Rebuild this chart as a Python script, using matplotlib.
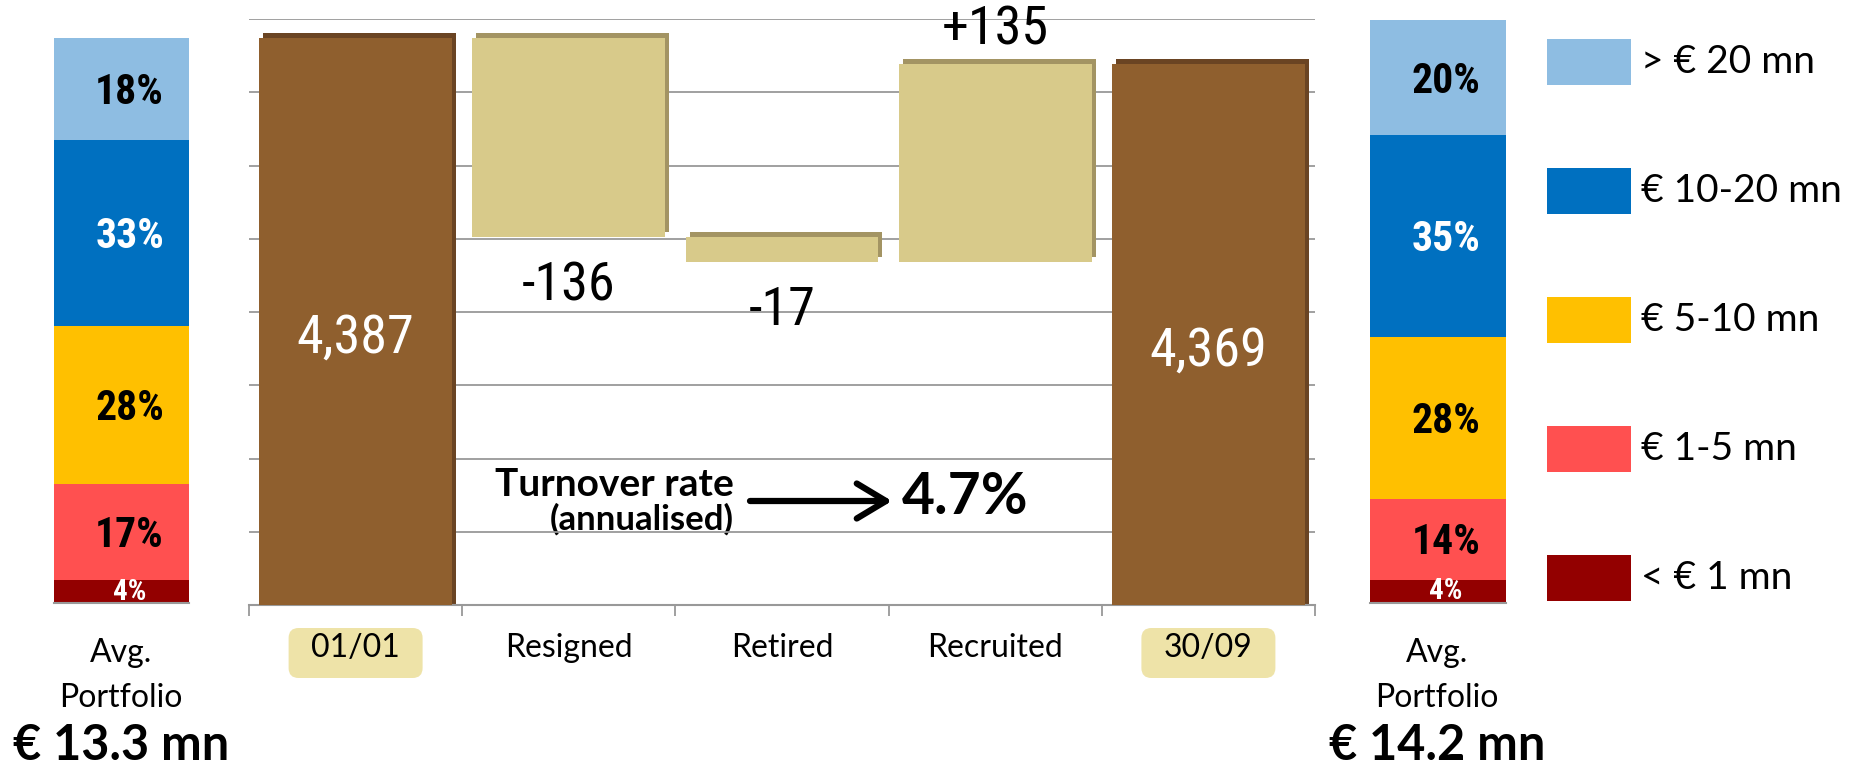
import os
import matplotlib
matplotlib.use("Agg")
import matplotlib.pyplot as plt
from matplotlib import font_manager, transforms
from matplotlib.font_manager import FontProperties
from matplotlib.patches import Rectangle, FancyBboxPatch

# --- data -------------------------------------------------------------
categories = ["01/01", "Resigned", "Retired", "Recruited", "30/09"]
start_total = 4387
changes = [-136, -17, 135]
end_total = 4369

segment_labels = ["< € 1 mn", "€ 1-5 mn", "€ 5-10 mn", "€ 10-20 mn", "> € 20 mn"]
left_pct = [4, 17, 28, 33, 18]
right_pct = [4, 14, 28, 35, 20]
left_avg = "€ 13.3 mn"
right_avg = "€ 14.2 mn"
turnover = "4.7%"

# --- style ------------------------------------------------------------
seg_colors = ["#930000", "#FF5050", "#FFC000", "#0070C0", "#8EBDE2"]
seg_text_colors = ["white", "black", "black", "white", "black"]
brown, brown_dark = "#8F5F2E", "#6A4423"
tan, tan_dark = "#D8CA8A", "#A39463"
grid_gray = "#999999"

# narrow font for the numbers (Arial Narrow look-alike)
files = {os.path.basename(f.fname).lower(): f.fname for f in font_manager.fontManager.ttflist}


def pick(options):
    for o in options:
        if o in files:
            return files[o]
    return None


reg = pick(["liberationsansnarrow-regular.ttf", "robotocondensed-regular.ttf",
            "notosans-condensed.ttf", "dejavusanscondensed.ttf"])
bld = pick(["liberationsansnarrow-bold.ttf", "robotocondensed-bold.ttf",
            "notosans-condensedbold.ttf", "dejavusanscondensed-bold.ttf"])


def narrow(size, bold=False):
    f = bld if bold else reg
    if f:
        return FontProperties(fname=f, size=size)
    return FontProperties(family="DejaVu Sans", size=size * 0.85, weight="bold" if bold else "normal")


body = "Lato"

W, H = 1850, 767
fig = plt.figure(figsize=(W / 100, H / 100), dpi=100)


def frame(x0, y0, x1, y1):
    return [x0 / W, 1 - y1 / H, (x1 - x0) / W, (y1 - y0) / H]


# overlay for decorations (pixel coordinates)
ov = fig.add_axes([0, 0, 1, 1], zorder=0)
ov.set_xlim(0, W)
ov.set_ylim(H, 0)
ov.axis("off")

# --- waterfall --------------------------------------------------------
ax = fig.add_axes(frame(249, 19, 1315, 605), zorder=1)
ax.patch.set_alpha(0)
ax.set_xlim(-0.5, len(categories) - 0.5)
ax.set_ylim(4000, 4400)
ax.set_yticks(range(4000, 4401, 50))
ax.yaxis.grid(True, color=grid_gray, lw=1.3)
ax.set_axisbelow(True)
ax.tick_params(axis="y", left=False, labelleft=False)
for s in ["left", "right", "top"]:
    ax.spines[s].set_visible(False)
ax.spines["bottom"].set_color(grid_gray)
ax.spines["bottom"].set_linewidth(1.5)

bottoms, heights, colors, shadows = [0], [start_total], [brown], [brown_dark]
level = start_total
for c in changes:
    bottoms.append(min(level, level + c))
    heights.append(abs(c))
    colors.append(tan)
    shadows.append(tan_dark)
    level += c
bottoms.append(0)
heights.append(end_total)
colors.append(brown)
shadows.append(brown_dark)

xs = list(range(len(categories)))
shift = ax.transData + transforms.ScaledTranslation(4 / 100, 5 / 100, fig.dpi_scale_trans)
ax.bar(xs, heights, bottom=bottoms, width=0.905, color=shadows, transform=shift, zorder=2)
ax.bar(xs, heights, bottom=bottoms, width=0.905, color=colors, zorder=3)

ax.set_xticks(xs)
ax.set_xticklabels(categories, fontfamily=body, fontsize=23)
ax.tick_params(axis="x", which="major", length=0, pad=20)
ax.set_xticks([x - 0.5 for x in range(len(categories) + 1)], minor=True)
ax.tick_params(axis="x", which="minor", length=8, width=1.3, color=grid_gray, direction="out")

# total labels inside the brown bars
for x, v in [(0, start_total), (4, end_total)]:
    ax.text(x, 4000 + 0.47 * (v - 4000), f"{v:,}", color="white", ha="center", va="center",
            fontproperties=narrow(39), zorder=4)

# change labels
level = start_total
for i, c in enumerate(changes):
    x = i + 1
    if c < 0:
        ax.annotate(f"{c}", (x, level + c), xytext=(0, -35), textcoords="offset points",
                    ha="center", va="center", fontproperties=narrow(39))
    else:
        ax.annotate(f"+{c}", (x, level + c), xytext=(0, 25), textcoords="offset points",
                    ha="center", va="center", fontproperties=narrow(39))
    level += c

# highlighted boxes behind the date labels
for x in [0, 4]:
    cx = 249 + (x + 0.5) * (1315 - 249) / len(categories)
    ov.add_patch(FancyBboxPatch((cx - 67, 628), 134, 50, boxstyle="round,pad=0,rounding_size=10",
                                fc="#EEE3A8", ec="none"))

# turnover annotation
ov.text(734, 484, "Turnover rate", ha="right", va="center", fontsize=28, family=body, weight="bold")
ov.text(734, 519, "(annualised)", ha="right", va="center", fontsize=25, family=body, weight="bold")
ov.annotate("", xy=(892, 501), xytext=(750, 501),
            arrowprops=dict(arrowstyle="->,head_length=0.7,head_width=0.42", lw=4.5,
                            color="black", mutation_scale=30, shrinkA=0, shrinkB=0))
ov.text(902, 498, turnover, ha="left", va="center", fontsize=41, family=body, weight="bold")

# --- stacked portfolio bars ------------------------------------------
def stacked(rect, pcts, avg, cx):
    a = fig.add_axes(frame(*rect), zorder=1)
    a.set_xlim(-0.5, 0.5)
    a.set_ylim(0, sum(pcts))
    a.axis("off")
    b = 0
    for p, col, tc in zip(pcts, seg_colors, seg_text_colors):
        a.bar(0, p, bottom=b, width=1, color=col)
        small = p < 6
        a.text(0.06, b + p / 2 - (0 if small else 0.6), f"{p}%", ha="center", va="center",
               color=tc, fontproperties=narrow(21 if small else 30, bold=True), clip_on=True)
        b += p
    a.axhline(0, color=grid_gray, lw=1.5, clip_on=False)
    ov.text(cx, 653, "Avg.", ha="center", va="center", fontsize=23, family=body)
    ov.text(cx, 698, "Portfolio", ha="center", va="center", fontsize=23, family=body)
    ov.text(cx, 745, avg, ha="center", va="center", fontsize=35, family=body, weight="bold")


stacked((54, 38, 189, 603), left_pct, left_avg, 121)
stacked((1370, 20, 1506, 603), right_pct, right_avg, 1437)

# legend, top to bottom
for i, j in enumerate(reversed(range(len(segment_labels)))):
    top = 39 + 129 * i
    ov.add_patch(Rectangle((1547, top), 84, 46, color=seg_colors[j], lw=0))
    ov.text(1641, top + 23, segment_labels[j], ha="left", va="center", fontsize=28, family=body)

fig.savefig("out.png", dpi=100)
